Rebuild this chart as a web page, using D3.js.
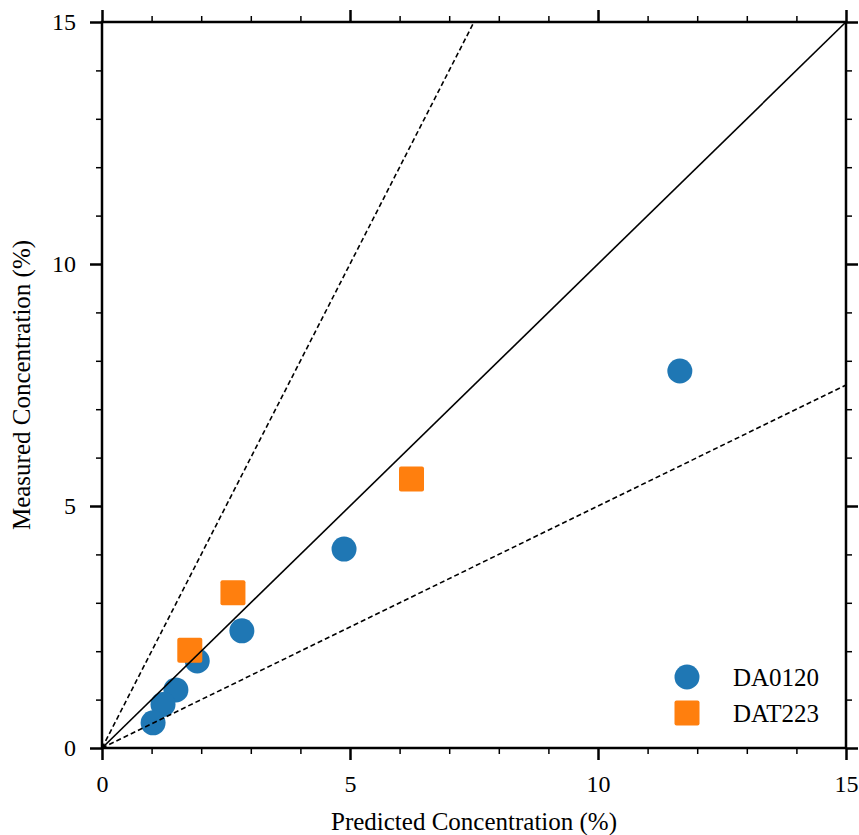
<!DOCTYPE html>
<html>
<head>
<meta charset="utf-8">
<script src="https://cdn.jsdelivr.net/npm/d3@7"></script>
<style>
  body { margin: 0; background: #fff; }
  svg text { font-family: "Liberation Serif", "Times New Roman", Times, "Tinos", "DejaVu Serif", serif !important; fill: #000; }
</style>
</head>
<body>
<div id="chart"></div>
<script>
// DA0120 measurements (predicted %, measured %)
var da0120Predicted = [11.65, 4.88, 2.82, 1.92, 1.49, 1.23, 1.03];
var da0120Measured  = [7.79, 4.11, 2.42, 1.80, 1.20, 0.90, 0.52];

// DAT223 measurements
var dat223Predicted = [6.24, 2.64, 1.77];
var dat223Measured  = [5.56, 3.21, 2.02];

var majorTicks = [0, 5, 10, 15];
var minorTicks = [1, 2, 3, 4, 6, 7, 8, 9, 11, 12, 13, 14];

// reference lines: slope of y = k * x
var refSlopes = [1, 2, 0.5];

var seriesNames = ["DA0120", "DAT223"];
var seriesColors = ["#1f77b4", "#ff7f0e"];

var W = 859, H = 835;
var margin = {top: 22, right: 13, bottom: 87, left: 102};
var width = W - margin.left - margin.right,
    height = H - margin.top - margin.bottom;

var svg = d3.select("#chart").append("svg")
    .attr("width", W)
    .attr("height", H)
  .append("g")
    .attr("transform", `translate(${margin.left},${margin.top})`);

var x = d3.scaleLinear().domain([0, 15]).range([0, width]);
var y = d3.scaleLinear().domain([0, 15]).range([height, 0]);

svg.append("clipPath").attr("id", "plotclip")
  .append("rect").attr("width", width).attr("height", height);

// markers
var da = da0120Predicted.map((d, i) => ({x: d, y: da0120Measured[i]}));
var dt = dat223Predicted.map((d, i) => ({x: d, y: dat223Measured[i]}));

svg.append("g").selectAll("circle")
  .data(da)
  .enter().append("circle")
    .attr("cx", d => x(d.x))
    .attr("cy", d => y(d.y))
    .attr("r", 12.5)
    .style("fill", seriesColors[0]);

var sq = 25;
svg.append("g").selectAll("rect")
  .data(dt)
  .enter().append("rect")
    .attr("x", d => x(d.x) - sq / 2)
    .attr("y", d => y(d.y) - sq / 2)
    .attr("width", sq)
    .attr("height", sq)
    .attr("rx", 2)
    .style("fill", seriesColors[1]);

// reference lines on top of markers
var lines = svg.append("g").attr("clip-path", "url(#plotclip)");
refSlopes.forEach(k => {
  lines.append("line")
    .attr("x1", x(0)).attr("y1", y(0))
    .attr("x2", x(15)).attr("y2", y(15 * k))
    .style("stroke", "#000")
    .style("stroke-width", 1.6)
    .style("stroke-dasharray", k === 1 ? null : "5,3");
});

// axes: major + minor ticks on every side, outward
function styleAxis(g, w) {
  g.select(".domain").remove();
  g.selectAll(".tick line").style("stroke", "#000").style("stroke-width", w);
  g.selectAll(".tick text").style("font-size", "24px");
}

var sides = [
  {gen: d3.axisBottom, t: `translate(0,${height})`, s: x, lab: true},
  {gen: d3.axisTop, t: "translate(0,0)", s: x, lab: false},
  {gen: d3.axisLeft, t: "translate(0,0)", s: y, lab: true},
  {gen: d3.axisRight, t: `translate(${width},0)`, s: y, lab: false}
];

sides.forEach(a => {
  svg.append("g").attr("transform", a.t)
    .call(a.gen(a.s).tickValues(minorTicks).tickSize(6).tickFormat(""))
    .call(g => styleAxis(g, 1.5));
  var major = a.gen(a.s).tickValues(majorTicks).tickSize(12)
    .tickPadding(a.gen === d3.axisBottom ? 15 : 14);
  if (!a.lab) major.tickFormat("");
  svg.append("g").attr("transform", a.t)
    .call(major)
    .call(g => styleAxis(g, 2.5));
});

// frame
svg.append("rect")
  .attr("width", width)
  .attr("height", height)
  .style("fill", "none")
  .style("stroke", "#000")
  .style("stroke-width", 2.5);

// axis labels
svg.append("text")
  .attr("x", width / 2)
  .attr("y", height + 82)
  .style("text-anchor", "middle")
  .style("font-size", "25px")
  .text("Predicted Concentration (%)");

svg.append("text")
  .attr("transform", "rotate(-90)")
  .attr("x", -height / 2)
  .attr("y", -72)
  .style("text-anchor", "middle")
  .style("font-size", "25px")
  .text("Measured Concentration (%)");

// legend
var legend = svg.selectAll(".legend")
    .data(seriesNames)
  .enter().append("g")
    .attr("class", "legend")
    .attr("transform", (d, i) => `translate(${585},${655 + i * 36})`);

legend.each(function (d, i) {
  var g = d3.select(this);
  if (i === 0) {
    g.append("circle").attr("r", 12.5).style("fill", seriesColors[0]);
  } else {
    g.append("rect").attr("x", -sq / 2).attr("y", -sq / 2)
      .attr("width", sq).attr("height", sq).attr("rx", 2)
      .style("fill", seriesColors[1]);
  }
});

legend.append("text")
  .attr("x", 46)
  .attr("dy", "0.35em")
  .style("font-size", "25px")
  .text(d => d);
</script>
</body>
</html>
